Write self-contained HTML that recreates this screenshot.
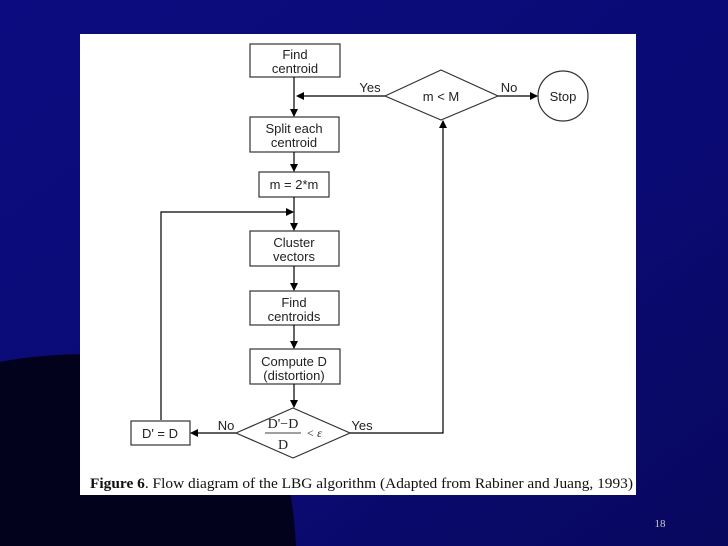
<!DOCTYPE html>
<html style="width:728px;height:546px;overflow:hidden;margin:0"><head><style>
body{margin:0;width:728px;height:546px;overflow:hidden;background:#0a0a78;font-family:"Liberation Sans",sans-serif}
</style></head><body>
<svg width="728" height="546" style="display:block" font-family="Liberation Sans, sans-serif" font-size="13">
<defs>
<marker id="a" markerWidth="8" markerHeight="8" refX="7" refY="4" orient="auto" markerUnits="userSpaceOnUse"><path d="M0,0 L8,4 L0,8z" fill="#000"/></marker>
<linearGradient id="g" x1="0" y1="0" x2="1" y2="1"><stop offset="0" stop-color="#0c0c80"/><stop offset="0.6" stop-color="#0a0a74"/><stop offset="1" stop-color="#08085e"/></linearGradient>
</defs>
<rect width="728" height="546" fill="url(#g)"/>
<path d="M0,362 C60,350 140,352 200,366 C260,380 290,440 296,546 L0,546 Z" fill="#02021c"/>
<rect x="80" y="34" width="556" height="461" fill="#fff"/>
<g fill="none" stroke="#333" stroke-width="1.2">
<rect x="250" y="44" width="90" height="33"/>
<rect x="250" y="117" width="89" height="35"/>
<rect x="259" y="172" width="70" height="25"/>
<rect x="250" y="231" width="89" height="35"/>
<rect x="250" y="291" width="89" height="34"/>
<rect x="250" y="349" width="90" height="35"/>
<rect x="131" y="421" width="59" height="24"/>
<polygon points="385,96 441,70 498,96 441,120"/>
<circle cx="563" cy="96" r="25"/>
<polygon points="236,433 293,408 350,433 293,458"/>
</g>
<g stroke="#000" stroke-width="1.2" fill="none">
<line x1="294" y1="77" x2="294" y2="116" marker-end="url(#a)"/>
<line x1="385" y1="96" x2="297" y2="96" marker-end="url(#a)"/>
<line x1="498" y1="96" x2="537" y2="96" marker-end="url(#a)"/>
<line x1="294" y1="152" x2="294" y2="171" marker-end="url(#a)"/>
<line x1="294" y1="197" x2="294" y2="230" marker-end="url(#a)"/>
<polyline points="161,420 161,212 293,212" marker-end="url(#a)"/>
<line x1="294" y1="266" x2="294" y2="290" marker-end="url(#a)"/>
<line x1="294" y1="325" x2="294" y2="348" marker-end="url(#a)"/>
<line x1="294" y1="384" x2="294" y2="407" marker-end="url(#a)"/>
<line x1="236" y1="433" x2="191" y2="433" marker-end="url(#a)"/>
<polyline points="350,433 443,433 443,121" marker-end="url(#a)"/>
</g>
<g fill="#222" text-anchor="middle">
<text x="295" y="59">Find</text><text x="295" y="73">centroid</text>
<text x="294" y="133">Split each</text><text x="294" y="147">centroid</text>
<text x="294" y="189">m = 2*m</text>
<text x="294" y="247">Cluster</text><text x="294" y="261">vectors</text>
<text x="294" y="307">Find</text><text x="294" y="321">centroids</text>
<text x="294" y="366">Compute D</text><text x="294" y="380">(distortion)</text>
<text x="160" y="438">D' = D</text>
<text x="441" y="101">m &lt; M</text>
<text x="563" y="101">Stop</text>
<text x="370" y="92">Yes</text><text x="509" y="92">No</text>
<text x="226" y="430">No</text><text x="362" y="430">Yes</text>
<text x="283" y="428" font-family="Liberation Serif, serif" font-size="14">D'−D</text>
<line x1="265" y1="433" x2="301" y2="433" stroke="#000" stroke-width="0.8"/>
<text x="283" y="449" font-family="Liberation Serif, serif" font-size="14">D</text>
<text x="314" y="437" font-family="Liberation Serif, serif" font-size="12" font-style="italic">&lt; ε</text>
</g>
<text x="90" y="488" textLength="543" lengthAdjust="spacingAndGlyphs" font-family="Liberation Serif, serif" font-size="15" fill="#111"><tspan font-weight="bold">Figure 6</tspan>. Flow diagram of the LBG algorithm (Adapted from Rabiner and Juang, 1993)</text>
<text x="660" y="527" text-anchor="middle" font-family="Liberation Serif, serif" font-size="11" fill="#ccc">18</text>
</svg>
</body></html>
